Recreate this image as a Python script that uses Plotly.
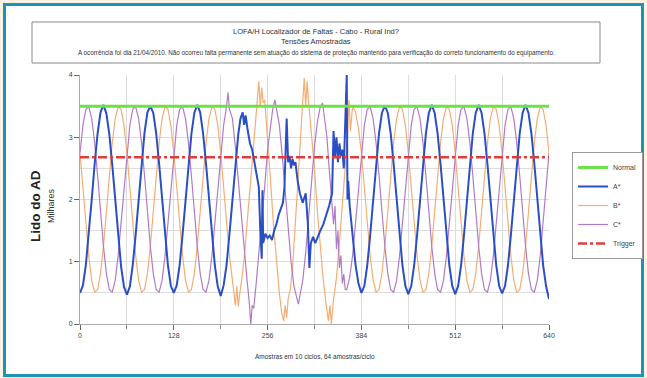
import plotly.graph_objects as go

# ---------------- data ----------------
title_lines = [
    "LOFA/H Localizador de Faltas - Cabo - Rural Ind?",
    "Tensões Amostradas",
    "A ocorrência foi dia 21/04/2010. Não ocorreu falta permanente sem atuação do sistema de proteção mantendo para verificação do correto funcionamento do equipamento.",
]
y_title = "Lido do AD"
y_subtitle = "Milhares"
x_title = "Amostras em 10 ciclos, 64 amostras/ciclo"
series_names = ["Normal", "A*", "B*", "C*", "Trigger"]

x_ticks = [0, 128, 256, 384, 512, 640]
y_ticks = [0, 1, 2, 3, 4]

normal_x = [0, 640]
normal_level = [3.5, 3.5]
trigger_x = [0, 640]
trigger_level = [2.68, 2.68]

phase_a = [
    (0,0.50),(4,0.62),(8,0.95),(12,1.43),(16,2.00),(20,2.57),(24,3.06),(28,3.40),(32,3.52),(36,3.38),(40,3.05),(44,2.56),(48,2.00),(52,1.42),(56,0.93),(60,0.60),
    (64,0.47),(68,0.60),(72,0.95),(76,1.44),(80,2.01),(84,2.58),(88,3.07),(92,3.40),(96,3.50),(100,3.39),(104,3.06),(108,2.57),(112,1.99),(116,1.43),(120,0.94),(124,0.61),
    (128,0.50),(132,0.62),(136,0.95),(140,1.44),(144,2.00),(148,2.56),(152,3.05),(156,3.39),(160,3.52),(164,3.40),(168,3.06),(172,2.57),(176,2.00),(180,1.43),(184,0.94),(188,0.60),
    (192,0.45),(196,0.62),(200,0.95),(204,1.45),(208,2.00),(212,2.55),(216,3.05),(219,3.30),(222,3.40),(224,3.20),(226,3.35),(229,3.10),(232,2.90),(235,2.80),
    (238,2.60),(241,2.45),(244,2.20),(246,1.50),(248,1.05),(249,2.15),(250,1.30),(253,1.45),(256,1.38),(259,1.42),(262,1.35),(265,1.50),(268,1.60),(271,1.75),
    (274,1.85),(277,1.95),(279,2.20),(281,2.90),(282,3.30),(284,2.60),(286,2.70),(288,2.50),(290,2.65),(292,2.55),(294,2.60),(297,2.30),(300,2.10),(304,1.95),
    (308,2.10),(311,1.60),(313,0.90),(315,1.30),(318,1.40),(321,1.30),(324,1.40),(328,1.50),(332,1.60),(336,1.75),(340,1.90),(344,2.10),(345,2.50),(346,3.10),
    (348,2.70),(350,3.00),(352,2.60),(354,2.90),(356,2.70),(358,2.80),(360,2.50),(362,3.20),(364,4.00),(365,2.00),(366,2.30),(368,1.90),(372,1.40),(376,0.95),(380,0.65),
    (384,0.50),(388,0.61),(392,0.94),(396,1.43),(400,2.00),(404,2.57),(408,3.06),(412,3.39),(416,3.51),(420,3.39),(424,3.06),(428,2.57),(432,2.00),(436,1.43),(440,0.94),(444,0.61),
    (448,0.48),(452,0.61),(456,0.94),(460,1.43),(464,2.00),(468,2.57),(472,3.06),(476,3.39),(480,3.52),(484,3.39),(488,3.06),(492,2.57),(496,2.00),(500,1.43),(504,0.94),(508,0.61),
    (512,0.48),(516,0.61),(520,0.94),(524,1.43),(528,2.00),(532,2.57),(536,3.06),(540,3.39),(544,3.52),(548,3.39),(552,3.06),(556,2.57),(560,2.00),(564,1.43),(568,0.94),(572,0.61),
    (576,0.49),(580,0.61),(584,0.94),(588,1.43),(592,2.00),(596,2.57),(600,3.06),(604,3.39),(608,3.52),(612,3.39),(616,3.06),(620,2.57),(624,2.00),(628,1.43),(632,0.94),(636,0.61),(640,0.40),
]

phase_b = [
    (0,2.75),(4,2.20),(8,1.61),(12,1.09),(16,0.70),(20,0.51),(24,0.55),(28,0.81),(32,1.25),(36,1.80),(40,2.39),(44,2.91),(48,3.30),(52,3.49),(56,3.45),(60,3.19),
    (64,2.75),(68,2.20),(72,1.61),(76,1.09),(80,0.70),(84,0.51),(88,0.55),(92,0.81),(96,1.25),(100,1.80),(104,2.39),(108,2.91),(112,3.30),(116,3.49),(120,3.45),(124,3.19),
    (128,2.75),(132,2.20),(136,1.61),(140,1.09),(144,0.70),(148,0.51),(152,0.55),(156,0.81),(160,1.25),(164,1.80),(168,2.39),(172,2.91),(176,3.30),(180,3.49),(184,3.45),(188,3.19),
    (192,2.75),(196,2.20),(200,1.61),(204,1.09),(208,0.70),(210,0.45),(212,0.30),(214,0.60),(216,0.28),(218,0.50),(220,0.65),(224,1.05),(228,1.60),(232,2.20),
    (236,2.75),(240,3.20),(242,3.60),(244,3.90),(246,3.50),(248,3.80),(250,3.55),(252,3.60),(254,3.30),(256,3.00),(260,2.30),(264,1.60),(268,1.00),(272,0.50),
    (275,0.20),(278,0.05),(280,0.30),(282,0.10),(284,0.40),(287,0.55),(290,0.90),(294,1.60),(298,2.40),(302,3.20),(304,3.60),(306,3.95),(308,3.50),(310,3.90),
    (312,3.55),(314,3.30),(317,3.00),(320,2.50),(324,1.80),(328,1.20),(332,0.70),(336,0.30),(339,0.05),(341,0.30),(343,0.00),(346,0.40),(350,0.75),(354,1.30),
    (358,1.90),(362,2.50),(365,3.00),(367,3.60),(369,3.10),(372,3.50),(376,3.40),(380,3.15),
    (384,2.75),(388,2.20),(392,1.61),(396,1.09),(400,0.70),(404,0.51),(408,0.55),(412,0.81),(416,1.25),(420,1.80),(424,2.39),(428,2.91),(432,3.30),(436,3.49),(440,3.45),(444,3.19),
    (448,2.75),(452,2.20),(456,1.61),(460,1.09),(464,0.70),(468,0.51),(472,0.55),(476,0.81),(480,1.25),(484,1.80),(488,2.39),(492,2.91),(496,3.30),(500,3.49),(504,3.45),(508,3.19),
    (512,2.75),(516,2.20),(520,1.61),(524,1.09),(528,0.70),(532,0.51),(536,0.55),(540,0.81),(544,1.25),(548,1.80),(552,2.39),(556,2.91),(560,3.30),(564,3.49),(568,3.45),(572,3.19),
    (576,2.75),(580,2.20),(584,1.61),(588,1.09),(592,0.70),(596,0.51),(600,0.55),(604,0.81),(608,1.25),(612,1.80),(616,2.39),(620,2.91),(624,3.30),(628,3.49),(632,3.45),(636,3.19),(640,2.75),
]

phase_c = [
    (0,2.75),(4,3.19),(8,3.45),(12,3.49),(16,3.30),(20,2.91),(24,2.39),(28,1.80),(32,1.25),(36,0.81),(40,0.55),(44,0.51),(48,0.70),(52,1.09),(56,1.61),(60,2.20),
    (64,2.75),(68,3.19),(72,3.45),(76,3.49),(80,3.30),(84,2.91),(88,2.39),(92,1.80),(96,1.25),(100,0.81),(104,0.55),(108,0.51),(112,0.70),(116,1.09),(120,1.61),(124,2.20),
    (128,2.75),(132,3.19),(136,3.45),(140,3.49),(144,3.30),(148,2.91),(152,2.39),(156,1.80),(160,1.25),(164,0.81),(168,0.55),(172,0.51),(176,0.70),(180,1.09),(184,1.61),(188,2.20),
    (192,2.75),(196,3.19),(200,3.50),(202,3.72),(204,3.45),(208,3.30),(212,2.85),(216,2.30),(220,1.70),(224,1.15),(228,0.70),(231,0.35),(233,0.00),(235,0.30),
    (237,0.25),(240,0.60),(244,1.10),(248,1.65),(252,2.20),(256,2.80),(260,3.20),(263,3.45),(266,3.60),(269,3.40),(272,3.20),(276,2.70),(280,2.10),(284,1.50),
    (288,1.00),(292,0.60),(296,0.40),(298,0.32),(300,0.45),(304,0.70),(308,1.15),(312,1.70),(316,2.30),(320,2.85),(324,3.25),(328,3.50),(331,3.55),(334,3.30),
    (337,3.00),(340,2.50),(343,2.10),(346,1.60),(348,1.90),(350,1.20),(352,1.50),(354,0.90),(356,1.10),(358,0.65),(360,0.80),(362,0.55),(364,0.55),(368,0.75),
    (372,1.10),(376,1.61),(380,2.20),
    (384,2.75),(388,3.19),(392,3.45),(396,3.49),(400,3.30),(404,2.91),(408,2.39),(412,1.80),(416,1.25),(420,0.81),(424,0.55),(428,0.51),(432,0.70),(436,1.09),(440,1.61),(444,2.20),
    (448,2.75),(452,3.19),(456,3.45),(460,3.49),(464,3.30),(468,2.91),(472,2.39),(476,1.80),(480,1.25),(484,0.81),(488,0.55),(492,0.51),(496,0.70),(500,1.09),(504,1.61),(508,2.20),
    (512,2.75),(516,3.19),(520,3.45),(524,3.49),(528,3.30),(532,2.91),(536,2.39),(540,1.80),(544,1.25),(548,0.81),(552,0.55),(556,0.51),(560,0.70),(564,1.09),(568,1.61),(572,2.20),
    (576,2.75),(580,3.19),(584,3.45),(588,3.49),(592,3.30),(596,2.91),(600,2.39),(604,1.80),(608,1.25),(612,0.81),(616,0.55),(620,0.51),(624,0.70),(628,1.09),(632,1.61),(636,2.20),(640,2.75),
]


def unzip(pairs):
    return [p[0] for p in pairs], [p[1] for p in pairs]


ax, ay = unzip(phase_a)
bx, by = unzip(phase_b)
cx, cy = unzip(phase_c)

FONT = "Arial, 'Liberation Sans', sans-serif"

fig = go.Figure()
fig.add_trace(go.Scatter(x=bx, y=by, mode="lines", name=series_names[2], legendrank=3,
                         line=dict(color="#f4ad74", width=1.2)))
fig.add_trace(go.Scatter(x=cx, y=cy, mode="lines", name=series_names[3], legendrank=4,
                         line=dict(color="#b07cc6", width=1.2)))
fig.add_trace(go.Scatter(x=ax, y=ay, mode="lines", name=series_names[1], legendrank=2,
                         line=dict(color="#2a4fc4", width=2)))
fig.add_trace(go.Scatter(x=normal_x, y=normal_level, mode="lines", name=series_names[0], legendrank=1,
                         line=dict(color="#6ee04a", width=3)))
fig.add_trace(go.Scatter(x=trigger_x, y=trigger_level, mode="lines", name=series_names[4], legendrank=5,
                         line=dict(color="#e03c3c", width=2.5, dash="dashdot")))

L, R, T, B = 80, 98, 75, 54
W, H = 647, 378
pw, ph = W - L - R, H - T - B


def px_x(p):
    return (p - L) / pw


def px_y(p):
    return (H - B - p) / ph


shapes = [
    dict(type="rect", xref="paper", yref="paper", layer="below",
         x0=px_x(4.5), x1=px_x(642.5), y0=px_y(375.5), y1=px_y(4.5),
         line=dict(color="#1f93b3", width=3), fillcolor="white"),
    dict(type="rect", xref="paper", yref="paper", layer="below",
         x0=px_x(32), x1=px_x(600), y0=px_y(63), y1=px_y(22),
         line=dict(color="#8a8a8a", width=1), fillcolor="white"),
]


def label(text, x, y, size, color="#333", angle=0):
    return dict(text=text, x=x, y=y, xref="paper", yref="paper", xanchor="center",
                yanchor="middle", showarrow=False, textangle=angle,
                font=dict(size=size, color=color, family=FONT))


annotations = [
    label(title_lines[0], px_x(316), px_y(31), 7.5),
    label(title_lines[1], px_x(316), px_y(42), 7.5),
    label(title_lines[2], px_x(316), px_y(53), 6.3),
    label("<b>" + y_title + "</b>", px_x(35), px_y(206), 13.5, "#222", -90),
    label(y_subtitle, px_x(51), px_y(206), 9, "#333", -90),
    label(x_title, 0.5, px_y(356), 6.5),
]

fig.update_layout(
    width=W, height=H, autosize=False,
    margin=dict(l=L, r=R, t=T, b=B, pad=0, autoexpand=False),
    paper_bgcolor="#fbf2e4",
    plot_bgcolor="rgba(0,0,0,0)",
    font=dict(family=FONT, size=7, color="#444"),
    shapes=shapes,
    annotations=annotations,
    showlegend=True,
    legend=dict(x=px_x(572), y=px_y(152), xanchor="left", yanchor="top",
                bgcolor="white", bordercolor="#9a9a9a", borderwidth=1,
                font=dict(size=7, color="#444", family=FONT), itemwidth=30,
                tracegroupgap=0),
)

fig.update_xaxes(
    range=[0, 640], tickvals=x_ticks, ticktext=[str(v) for v in x_ticks],
    ticks="outside", ticklen=5, tickcolor="#666", showline=True, linecolor="#aaa",
    showgrid=True, gridcolor="#dcdcdc", gridwidth=1, zeroline=False,
    minor=dict(dtick=64, tick0=0, showgrid=True, gridcolor="#dcdcdc", ticks="outside", ticklen=4, tickcolor="#888"),
    tickfont=dict(size=7, color="#444"),
)
fig.update_yaxes(
    range=[0, 4], tickvals=y_ticks, ticktext=[str(v) for v in y_ticks],
    ticks="outside", ticklen=5, tickcolor="#666", showline=True, linecolor="#aaa",
    showgrid=True, gridcolor="#dcdcdc", gridwidth=1, zeroline=False,
    minor=dict(dtick=0.5, tick0=0, showgrid=True, gridcolor="#dcdcdc", ticks=""),
    tickfont=dict(size=7, color="#444"),
)

fig.write_html(
    "out.html",
    config={"responsive": False, "displayModeBar": False},
    post_script="document.body.style.margin='0px';document.body.style.overflow='hidden';",
)
